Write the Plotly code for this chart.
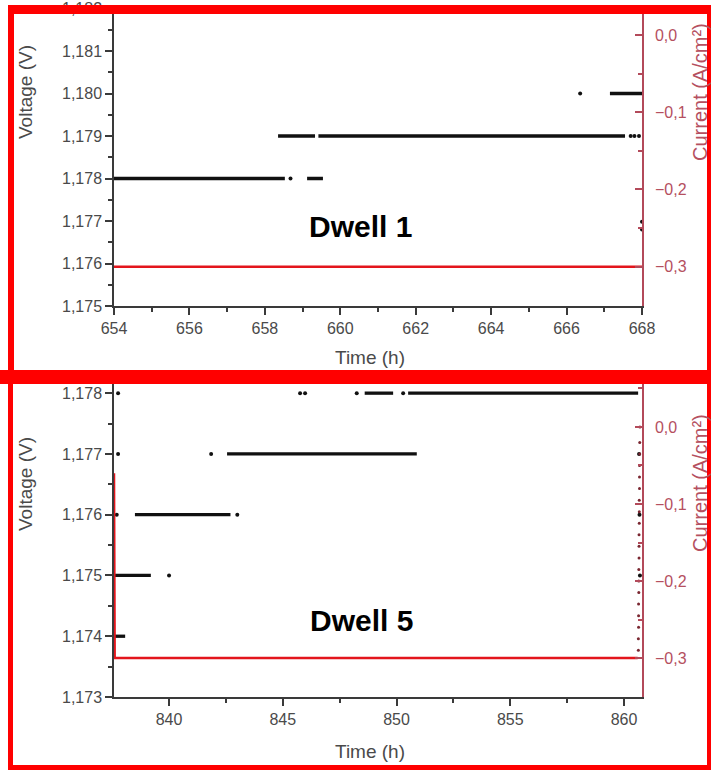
import plotly.graph_objects as go

W, H = 711, 770

# ---------------- Dwell 1 data ----------------
d1_seg_start = [654.00, 659.12, 658.35, 659.42, 667.15]
d1_seg_end = [658.53, 659.54, 659.33, 667.55, 668.00]
d1_seg_v = [1.178, 1.178, 1.179, 1.179, 1.180]
d1_dot_t = [658.68, 666.36, 667.70, 667.80, 667.92, 668.00, 668.00]
d1_dot_v = [1.178, 1.180, 1.179, 1.179, 1.179, 1.17698, 1.17680]
d1_cur_t = [654.0, 668.0]
d1_cur = [-0.3, -0.3]

# ---------------- Dwell 5 data ----------------
d5_seg_start = [848.60, 850.51, 842.55, 838.50, 837.58, 837.58]
d5_seg_end = [849.85, 860.62, 850.89, 842.70, 839.20, 838.07]
d5_seg_v = [1.178, 1.178, 1.177, 1.176, 1.175, 1.174]
d5_dot_t = [837.76, 845.76, 845.98, 848.25, 850.29, 837.76, 841.85, 837.70,
            843.00, 840.00, 860.66, 860.68, 860.70]
d5_dot_v = [1.178, 1.178, 1.178, 1.178, 1.178, 1.177, 1.177, 1.176,
            1.176, 1.175, 1.1770, 1.1760, 1.1750]
# current: start-up ramp + dwell
d5_cur_t = [837.58, 837.585, 837.59, 837.595, 837.60, 837.61, 860.60]
d5_cur = [-0.06, -0.12, -0.17, -0.22, -0.27, -0.30, -0.30]
# current: ramp back at the end of the dwell
d5_ramp_t = [860.63, 860.63, 860.64, 860.64, 860.64, 860.65, 860.65, 860.65,
             860.66, 860.66, 860.66, 860.67, 860.67, 860.67, 860.68, 860.68,
             860.68, 860.69, 860.69, 860.70]
d5_ramp = [-0.29, -0.275, -0.26, -0.245, -0.23, -0.215, -0.20, -0.185,
           -0.17, -0.155, -0.14, -0.125, -0.11, -0.095, -0.08, -0.065,
           -0.05, -0.035, -0.02, 0.00]

FONT = "Liberation Sans, Arial, sans-serif"
AX = "#3a3a3a"
TXT = "#4a4a4a"
CUR_AX = "#b34a5a"
CUR_TXT = "#b5505f"
LINE_RED = "#e3151c"


def seg_xy(t0, t1, v):
    xs, ys = [], []
    for a, b, c in zip(t0, t1, v):
        xs += [a, b, None]
        ys += [c, c, None]
    return xs, ys


fig = go.Figure()

# top panel
x, y = seg_xy(d1_seg_start, d1_seg_end, d1_seg_v)
fig.add_trace(go.Scatter(x=x, y=y, mode="lines", line=dict(color="#111", width=3.3),
                         xaxis="x", yaxis="y", showlegend=False))
fig.add_trace(go.Scatter(x=d1_dot_t, y=d1_dot_v, mode="markers",
                         marker=dict(color="#111", size=4), xaxis="x", yaxis="y",
                         showlegend=False))
fig.add_trace(go.Scatter(x=d1_cur_t, y=d1_cur, mode="lines",
                         line=dict(color=LINE_RED, width=2.5), xaxis="x", yaxis="y2",
                         showlegend=False))

# bottom panel
x, y = seg_xy(d5_seg_start, d5_seg_end, d5_seg_v)
fig.add_trace(go.Scatter(x=x, y=y, mode="lines", line=dict(color="#111", width=3.3),
                         xaxis="x2", yaxis="y3", showlegend=False))
fig.add_trace(go.Scatter(x=d5_dot_t, y=d5_dot_v, mode="markers",
                         marker=dict(color="#111", size=4), xaxis="x2", yaxis="y3",
                         showlegend=False))
fig.add_trace(go.Scatter(x=d5_cur_t, y=d5_cur, mode="lines",
                         line=dict(color=LINE_RED, width=2.5), xaxis="x2", yaxis="y4",
                         showlegend=False))
fig.add_trace(go.Scatter(x=d5_ramp_t, y=d5_ramp, mode="markers",
                         marker=dict(color="#7a2630", size=3), xaxis="x2", yaxis="y4",
                         showlegend=False))

xdom = [114 / W, 642 / W]
top_dom = [1 - 306 / H, 1 - 8.5 / H]
bot_dom = [1 - 697 / H, 1 - 381 / H]

tickfont = dict(family=FONT, size=16, color=TXT)
curfont = dict(family=FONT, size=16, color=CUR_TXT)

common_x = dict(domain=xdom, showline=True, linecolor=AX, linewidth=1.5, ticks="outside",
                ticklen=7, tickwidth=1.5, tickcolor=AX, tickfont=tickfont, showgrid=False,
                zeroline=False, automargin=False)
common_yl = dict(showline=True, linecolor=AX, linewidth=1.5, ticks="outside", ticklen=7,
                 tickwidth=1.5, tickcolor=AX, tickfont=tickfont, showgrid=False,
                 zeroline=False, tickformat=".3f", automargin=False)
common_yr = dict(side="right", showline=True, linecolor=CUR_AX, linewidth=1.5,
                 ticks="inside", ticklen=7, tickwidth=1.5, tickcolor=CUR_AX,
                 tickfont=curfont, showgrid=False, zeroline=False, tickformat=".1f",
                 dtick=0.1, tick0=0, ticklabelstandoff=8, automargin=False,
                 minor=dict(dtick=0.05, ticks="inside", ticklen=4, tickcolor=CUR_AX))

fig.update_layout(
    width=W, height=H, margin=dict(l=0, r=0, t=0, b=0, autoexpand=False),
    paper_bgcolor="white", plot_bgcolor="white", separators=",.",
    xaxis=dict(common_x, anchor="y", range=[654, 668], dtick=2, tick0=654,
               minor=dict(dtick=1, ticks="outside", ticklen=4, tickcolor=AX)),
    yaxis=dict(common_yl, domain=top_dom, anchor="x", range=[1.175, 1.182],
               dtick=0.001, tick0=1.175,
               minor=dict(dtick=0.0005, ticks="outside", ticklen=4, tickcolor=AX)),
    yaxis2=dict(common_yr, overlaying="y", anchor="x", range=[-0.351, 0.0344]),
    xaxis2=dict(common_x, anchor="y3", range=[837.58, 860.79], dtick=5, tick0=840,
                minor=dict(dtick=2.5, ticks="outside", ticklen=4, tickcolor=AX)),
    yaxis3=dict(common_yl, domain=bot_dom, anchor="x2", range=[1.173, 1.1782],
                dtick=0.001, tick0=1.173,
                minor=dict(dtick=0.0005, ticks="outside", ticklen=4, tickcolor=AX)),
    yaxis4=dict(common_yr, overlaying="y3", anchor="x2", range=[-0.3506, 0.0597]),
)


def ann(text, px, py, size, color, angle=0, bold=False):
    fig.add_annotation(text=f"<b>{text}</b>" if bold else text, x=px / W, y=1 - py / H,
                       xref="paper", yref="paper", showarrow=False, textangle=angle,
                       xanchor="center", yanchor="middle",
                       font=dict(family=FONT, size=size, color=color))


ann("Voltage (V)", 25, 92, 19, TXT, -90)
ann("Voltage (V)", 25, 484, 19, TXT, -90)
ann("Time (h)", 370, 357, 19, TXT)
ann("Time (h)", 370, 751, 19, TXT)
ann("Current (A/cm²)", 700, 92, 20, CUR_TXT, -90)
ann("Current (A/cm²)", 700, 483, 20, CUR_TXT, -90)
ann("Dwell 1", 360, 226, 30, "#000", bold=True)
ann("Dwell 5", 361, 620, 30, "#000", bold=True)

# red frames
RED = "#ff0000"
bands = [
    (8, 5, 711, 14),      # top band
    (8, 5, 14, 383),      # left band, top panel
    (707, 5, 711, 383),   # right band, top panel
    (0, 370, 711, 384),   # middle band
    (8, 370, 13, 770),    # left band, bottom panel
    (707, 370, 711, 770), # right band, bottom panel
    (8, 765, 711, 770),   # bottom band
]
for x0, y0, x1, y1 in bands:
    fig.add_shape(type="rect", xref="paper", yref="paper", x0=x0 / W, x1=x1 / W,
                  y0=1 - y1 / H, y1=1 - y0 / H, fillcolor=RED, line=dict(width=0),
                  layer="above")

fig.write_html("out.html")
